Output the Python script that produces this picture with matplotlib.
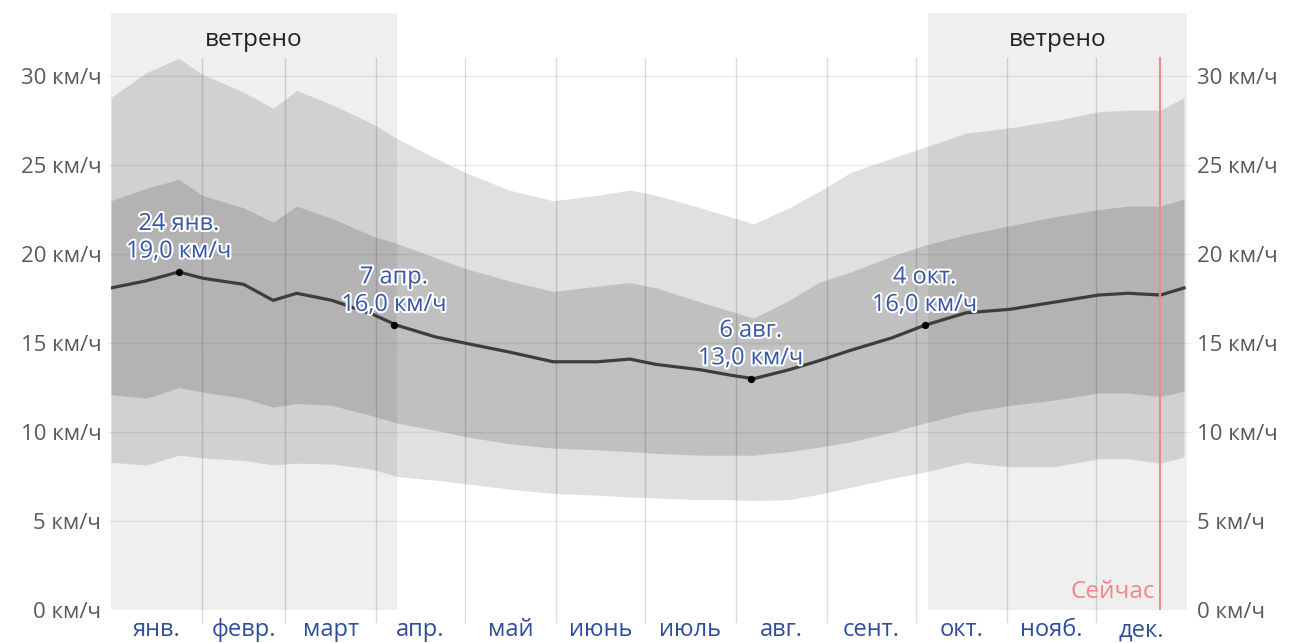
import numpy as np
import matplotlib.pyplot as plt
import matplotlib.patheffects as pe

plt.rcParams['font.family'] = ['Open Sans', 'DejaVu Sans']

# day of year (0 = 1 Jan) and wind speed percentiles, km/h
days = [0, 12, 23, 31, 45, 55, 63, 75, 89, 97, 110, 120, 135, 150, 165, 176,
        185, 200, 210, 218, 230, 240, 251, 265, 276, 290, 305, 320, 335, 345, 356, 364]
p90 = [28.8, 30.2, 31.0, 30.1, 29.1, 28.2, 29.2, 28.4, 27.3, 26.5, 25.4, 24.6,
       23.6, 23.0, 23.3, 23.6, 23.3, 22.6, 22.1, 21.7, 22.6, 23.5, 24.6, 25.4,
       26.0, 26.8, 27.1, 27.5, 28.0, 28.1, 28.1, 28.8]
p75 = [23.0, 23.7, 24.2, 23.3, 22.6, 21.8, 22.7, 22.0, 21.0, 20.6, 19.8, 19.2,
       18.5, 17.9, 18.2, 18.4, 18.1, 17.3, 16.8, 16.4, 17.4, 18.4, 19.0, 19.9,
       20.5, 21.1, 21.6, 22.1, 22.5, 22.7, 22.7, 23.1]
mean = [18.1, 18.5, 19.0, 18.65, 18.3, 17.4, 17.8, 17.4, 16.6, 16.0, 15.35, 15.0,
        14.5, 13.95, 13.95, 14.1, 13.8, 13.5, 13.2, 13.0, 13.5, 14.0, 14.6, 15.3,
        16.0, 16.7, 16.9, 17.3, 17.7, 17.8, 17.7, 18.1]
p25 = [12.1, 11.9, 12.5, 12.25, 11.9, 11.4, 11.6, 11.5, 10.9, 10.5, 10.1, 9.75,
       9.35, 9.1, 9.0, 8.9, 8.8, 8.7, 8.7, 8.7, 8.9, 9.15, 9.45, 10.0,
       10.5, 11.1, 11.5, 11.8, 12.2, 12.2, 12.0, 12.3]
p10 = [8.3, 8.15, 8.7, 8.55, 8.4, 8.15, 8.25, 8.2, 7.9, 7.5, 7.3, 7.1,
       6.8, 6.55, 6.45, 6.35, 6.3, 6.2, 6.2, 6.15, 6.2, 6.5, 6.9, 7.4,
       7.75, 8.3, 8.05, 8.05, 8.5, 8.5, 8.25, 8.6]

months = ['янв.', 'февр.', 'март', 'апр.', 'май', 'июнь', 'июль',
          'авг.', 'сент.', 'окт.', 'нояб.', 'дек.']
month_starts = [0, 31, 59, 90, 120, 151, 181, 212, 243, 273, 304, 334, 365]

windy_periods = [(0, 97), (277, 365)]
now_day = 356

# highlighted days: (day, value, label)
marks_day = [23, 96, 217, 276]
marks_val = [19.0, 16.0, 13.0, 16.0]
marks_txt = ['24 янв.\n19,0 км/ч', '7 апр.\n16,0 км/ч',
             '6 авг.\n13,0 км/ч', '4 окт.\n16,0 км/ч']

W, H = 1291, 643
fig = plt.figure(figsize=(W / 100, H / 100), dpi=100)
ax = fig.add_axes([111 / W, 1 - 610 / H, (1187 - 111) / W, 597 / H])
ax.set_xlim(0, 365)
ax.set_ylim(0, 33.55)

for a, b in windy_periods:
    ax.axvspan(a, b, color='#efefef', zorder=0, lw=0)
    ax.text((a + b) / 2, 0.955, 'ветрено', transform=ax.get_xaxis_transform(),
            ha='center', va='center', fontsize=17.5, color='#222222')

ax.fill_between(days, p10, p90, color='black', alpha=0.12, lw=0, zorder=1)
ax.fill_between(days, p25, p75, color='black', alpha=0.14, lw=0, zorder=2)

yt = [0, 5, 10, 15, 20, 25, 30]
for v in yt[1:]:
    ax.axhline(v, xmin=-0.003, xmax=1.003, color='black', alpha=0.07, lw=1,
               zorder=3, clip_on=False)
for d in month_starts[1:-1]:
    ax.axvline(d, ymin=-0.02, ymax=0.925, color='black', alpha=0.14, lw=1,
               zorder=3, clip_on=False)

ax.plot(days, mean, color='#3d3d3d', lw=2.3, zorder=5)
ax.scatter(marks_day, marks_val, s=18, color='black', zorder=6)
for d, v, t in zip(marks_day, marks_val, marks_txt):
    ax.annotate(t, (d, v), xytext=(0, 6), textcoords='offset points',
                ha='center', va='bottom', fontsize=17, color='#3557a8',
                linespacing=1.2, zorder=7,
                path_effects=[pe.withStroke(linewidth=3, foreground='white')])

ax.axvline(now_day, ymin=0, ymax=0.925, color='#f08a8a', lw=1.5, zorder=6)
ax.text(now_day - 2, 0.35, 'Сейчас', ha='right', va='bottom', fontsize=17.5,
        color='#ee8888', zorder=7)

for s in ax.spines.values():
    s.set_visible(False)

ax.set_yticks(yt)
ax.set_yticklabels([f'{v} км/ч' for v in yt])
ax.tick_params(axis='y', length=0, labelsize=16, labelcolor='#5a5a5a',
               labelright=True, pad=7)

mids = [(month_starts[i] + month_starts[i + 1]) / 2 for i in range(12)]
ax.set_xticks(mids)
ax.set_xticklabels(months)
ax.tick_params(axis='x', length=0, labelsize=17, labelcolor='#2f4f9a', pad=6)

fig.savefig('out.png', dpi=100)
